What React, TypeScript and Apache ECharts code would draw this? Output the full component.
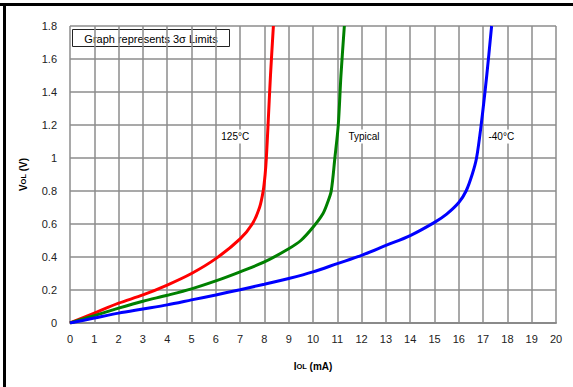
import React, { useEffect, useRef } from "react";
import * as echarts from "echarts";

const xTicks = [0, 20];
const yRange = [0, 1.8];

const red125: [number, number][] = [
  [0, 0], [1, 0.06], [2, 0.12], [3, 0.17], [4, 0.23], [5, 0.3], [6, 0.39], [7, 0.51],
  [7.5, 0.6], [7.8, 0.7], [7.95, 0.8], [8.03, 0.9], [8.08, 1.0], [8.15, 1.2], [8.25, 1.5], [8.37, 1.8],
];
const greenTyp: [number, number][] = [
  [0, 0], [1, 0.045], [2, 0.09], [3, 0.132], [4, 0.168], [5, 0.207], [6, 0.255], [7, 0.31],
  [8, 0.37], [9, 0.45], [9.5, 0.5], [10, 0.58], [10.4, 0.66], [10.6, 0.73], [10.75, 0.8],
  [10.9, 1.0], [11.04, 1.2], [11.15, 1.5], [11.29, 1.8],
];
const blueM40: [number, number][] = [
  [0, 0], [1, 0.03], [2, 0.06], [3, 0.085], [4, 0.11], [5, 0.14], [6, 0.17], [7, 0.202],
  [8, 0.235], [9, 0.27], [10, 0.31], [11, 0.36], [12, 0.41], [13, 0.47], [14, 0.53],
  [15, 0.61], [15.5, 0.66], [16, 0.73], [16.3, 0.8], [16.55, 0.9], [16.73, 1.0],
  [16.92, 1.2], [17.15, 1.5], [17.35, 1.8],
];

const labels = [
  { name: "125°C", coord: [6.8, 1.13] },
  { name: "Typical", coord: [12.1, 1.13] },
  { name: "-40°C", coord: [17.75, 1.13] },
];

const FONT = "Liberation Sans";

export default function App() {
  const ref = useRef<HTMLDivElement>(null);
  useEffect(() => {
    document.body.style.margin = "0";
    const chart = echarts.init(ref.current!, null, { renderer: "svg" });
    const mk = (data: [number, number][], color: string, label?: { name: string; coord: number[] }) => ({
      type: "line",
      data,
      showSymbol: false,
      smooth: 0.3,
      lineStyle: { color, width: 3 },
      z: 3,
      markPoint: label
        ? {
            symbol: "rect",
            symbolSize: 0,
            data: [{ coord: label.coord, value: label.name }],
            label: {
              show: true,
              formatter: label.name,
              color: "#000",
              fontFamily: FONT,
              fontSize: 10,
              backgroundColor: "#fff",
              padding: [2, 2],
              position: "inside",
            },
          }
        : undefined,
    });
    chart.setOption({
      animation: false,
      backgroundColor: "#fff",
      grid: { left: 70, right: 17, top: 26, bottom: 64 },
      xAxis: {
        type: "value",
        min: xTicks[0],
        max: xTicks[1],
        interval: 1,
        name: "{b|I}{s|OL}{b| (mA)}",
        nameLocation: "middle",
        nameGap: 38,
        nameTextStyle: {
          rich: {
            b: { fontFamily: FONT, fontSize: 10, fontWeight: "bold", color: "#000" },
            s: { fontFamily: FONT, fontSize: 7.5, fontWeight: "bold", color: "#000" },
          },
        },
        axisLine: { lineStyle: { color: "#8a8a8a", width: 2 } },
        axisTick: { show: false },
        axisLabel: { fontFamily: FONT, fontSize: 11, color: "#222", margin: 10 },
        splitLine: { show: true, lineStyle: { color: "#8c8c8c", width: 1.5 } },
      },
      yAxis: {
        type: "value",
        min: yRange[0],
        max: yRange[1],
        interval: 0.2,
        name: "{b|V}{s|OL}{b| (V)}",
        nameLocation: "middle",
        nameGap: 42,
        nameRotate: 90,
        nameTextStyle: {
          rich: {
            b: { fontFamily: FONT, fontSize: 10, fontWeight: "bold", color: "#000" },
            s: { fontFamily: FONT, fontSize: 7.5, fontWeight: "bold", color: "#000" },
          },
        },
        axisLine: { show: false },
        axisTick: { show: false },
        axisLabel: {
          fontFamily: FONT,
          fontSize: 11,
          color: "#222",
          margin: 13,
          formatter: (v: number) => String(Math.round(v * 10) / 10),
        },
        splitLine: { show: true, lineStyle: { color: "#8c8c8c", width: 1.5 } },
      },
      series: [
        mk(red125, "#ff0000", labels[0]),
        mk(greenTyp, "#008000", labels[1]),
        mk(blueM40, "#0000ff", labels[2]),
      ],
      graphic: [
        { type: "line", shape: { x1: 0, y1: 4.5, x2: 573, y2: 4.5 }, style: { stroke: "#000", lineWidth: 3 } },
        { type: "line", shape: { x1: 4.5, y1: 3, x2: 4.5, y2: 387 }, style: { stroke: "#000", lineWidth: 3 } },
        {
          type: "group",
          left: 72,
          top: 29,
          z: 10,
          children: [
            { type: "rect", shape: { x: 0, y: 0, width: 157, height: 17 }, style: { fill: "#fff", stroke: "#222", lineWidth: 1 } },
            {
              type: "text",
              x: 78.5,
              y: 9,
              style: { text: "Graph represents 3σ Limits", fontFamily: FONT, fontSize: 11, fill: "#000", align: "center", verticalAlign: "middle" },
            },
          ],
        },
      ],
    });
    return () => chart.dispose();
  }, []);
  return <div ref={ref} style={{ width: 573, height: 387 }} />;
}
